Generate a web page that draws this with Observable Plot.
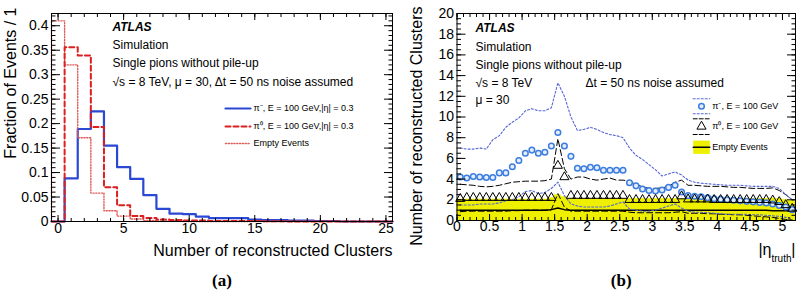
<!DOCTYPE html>
<html><head><meta charset="utf-8">
<script src="https://cdn.jsdelivr.net/npm/d3@7"></script>
<script src="https://cdn.jsdelivr.net/npm/@observablehq/plot@0.6"></script>
<style>
html,body{margin:0;padding:0;background:#fff;}
#wrap{position:relative;width:798px;height:290px;overflow:hidden;background:#fff;}
#a,#b{position:absolute;top:0;}
#a{left:0;width:400px;} #b{left:400px;width:398px;}
</style></head><body>
<div id="wrap"><div id="a"></div><div id="b"></div></div>
<script>
// ---------- panel (a): fraction of events per number of clusters ----------
const clusterBins = [0,1,2,3,4,5,6,7,8,9,10,11,12,13,14,15,16,17,18,19,20,21,22,23,24,25];
const fracPiMinus = [0,0.088,0.189,0.225,0.155,0.111,0.087,0.054,0.026,0.016,0.015,0.010,0.007,0.007,0.007,0.004,0.003,0.003,0.002,0.002,0.001,0.001,0,0,0,0];
const fracPiZero  = [0,0.356,0.339,0.193,0.070,0.033,0.011,0.007,0.004,0.003,0.002,0.002,0.001,0.001,0.001,0.001,0.0005,0.0005,0,0,0,0,0,0,0,0];
const fracEmpty   = [0.410,0.320,0.171,0.058,0.022,0.011,0.005,0.002,0.001,0.001,0,0,0,0,0,0,0,0,0,0,0,0,0,0,0,0];
const xTicksA = [0,5,10,15,20,25];
const yTicksA = [0,0.05,0.1,0.15,0.2,0.25,0.3,0.35,0.4];
const legendA = ["π⁻, E = 100 GeV,|η| = 0.3","π⁰, E = 100 GeV,|η| = 0.3","Empty Events"];

// ---------- panel (b): number of clusters vs |eta_truth| ----------
const etaBins = [0.05,0.15,0.25,0.35,0.45,0.55,0.65,0.75,0.85,0.95,1.05,1.15,1.25,1.35,1.45,1.55,1.65,1.75,1.85,1.95,2.05,2.15,2.25,2.35,2.45,2.55,2.65,2.75,2.85,2.95,3.05,3.15,3.25,3.35,3.45,3.55,3.65,3.75,3.85,3.95,4.05,4.15,4.25,4.35,4.45,4.55,4.65,4.75,4.85,4.95,5.05,5.15];
const piMinusMean  = [4.2,4.1,4.25,4.2,4.15,4.15,4.6,4.6,5.2,5.8,6.5,6.8,6.5,6.6,7.2,8.5,7.2,6.2,5.05,5.0,5.15,5.1,4.85,4.85,4.85,4.85,3.65,3.35,3.05,2.9,2.85,2.95,3.2,3.4,2.75,2.4,2.35,2.3,2.2,2.1,2.05,2.0,1.95,1.9,1.85,1.8,1.75,1.7,1.6,1.45,1.3,1.05];
const piMinusUpper = [7.0,6.9,6.9,7.0,6.9,7.8,8.2,9.0,9.5,9.9,10.6,10.8,10.6,10.6,10.9,13.3,12.0,10.0,8.7,8.8,9.0,8.8,8.5,8.3,8.2,8.0,7.0,6.3,5.9,5.4,4.9,4.3,4.5,4.7,4.4,3.9,3.7,3.6,3.55,3.5,3.45,3.4,3.4,3.4,3.35,3.3,3.3,3.3,3.3,3.1,2.5,2.0];
const piMinusLower = [1.5,1.5,1.5,1.6,1.6,1.6,1.7,1.9,2.0,2.3,2.8,2.9,2.6,2.7,3.1,3.7,2.4,1.6,1.4,1.3,1.3,1.3,1.3,1.4,1.6,1.8,1.1,1.0,0.9,0.9,1.0,1.2,1.4,1.6,1.2,0.9,0.8,0.8,0.75,0.7,0.65,0.6,0.6,0.6,0.6,0.55,0.55,0.5,0.45,0.4,0.3,0.2];
const piZeroMean   = [2.1,2.2,2.2,2.2,2.2,2.2,2.2,2.2,2.2,2.2,2.2,2.2,2.2,2.2,2.2,5.3,4.2,2.4,2.4,2.4,2.4,2.4,2.4,2.4,2.4,2.4,2.0,2.0,2.0,2.0,2.0,2.0,2.0,2.0,2.35,2.05,2.05,2.05,2.05,2.0,2.0,2.0,2.0,2.0,2.0,2.0,2.0,2.0,1.95,1.8,1.5,1.15];
const piZeroUpper  = [3.5,3.45,3.4,3.3,3.25,3.3,3.4,3.55,3.7,3.75,3.8,3.8,3.8,3.85,4.0,7.9,5.0,4.0,4.2,4.2,4.0,3.9,4.0,4.1,3.9,3.9,3.8,3.5,3.25,3.1,3.1,3.15,3.3,3.7,3.9,3.4,3.4,3.35,3.3,3.3,3.3,3.25,3.2,3.2,3.15,3.1,3.1,3.1,3.15,2.9,2.5,2.0];
const piZeroLower  = [0.85,0.9,0.9,0.9,0.9,0.9,0.9,0.9,0.95,0.95,1.0,1.0,1.0,1.0,1.05,2.6,1.3,0.9,0.9,0.9,0.9,0.9,0.9,0.9,0.9,0.9,0.8,0.75,0.75,0.75,0.75,0.75,0.75,0.8,0.85,0.7,0.7,0.7,0.65,0.65,0.6,0.6,0.55,0.55,0.5,0.45,0.4,0.35,0.3,0.2,0.1,0.05];
const emptyMean    = [1.0,1.0,1.0,1.0,1.0,1.0,1.0,1.0,1.0,1.0,1.0,1.0,1.0,1.0,1.05,1.2,1.05,1.0,1.0,1.0,1.0,1.0,1.0,1.0,1.0,1.0,1.0,1.0,1.0,1.0,1.0,1.0,1.0,1.0,1.0,1.0,1.0,1.0,1.0,1.0,1.0,1.0,1.0,1.0,1.0,1.0,1.0,1.0,0.95,0.95,0.95,0.95];
const emptyUpper   = [2.05,2.05,2.05,2.05,2.05,2.05,2.05,2.05,2.05,2.05,2.05,2.05,2.05,2.05,2.2,2.5,2.3,2.1,2.1,2.1,2.1,2.1,2.1,2.1,2.1,2.1,2.1,2.1,2.1,2.1,2.1,2.1,2.1,2.1,2.1,2.1,2.1,2.1,2.1,2.1,2.1,2.1,2.1,2.1,2.1,2.1,2.1,2.1,2.15,2.1,2.0,1.9];
const xTicksB = [0,0.5,1,1.5,2,2.5,3,3.5,4,4.5,5];
const yTicksB = [0,2,4,6,8,10,12,14,16,18,20];
const legendB = ["π⁻, E = 100 GeV","π⁰, E = 100 GeV","Empty Events"];

// ---------- styling ----------
const FONT = "'Liberation Sans', Arial, Helvetica, sans-serif";
const SERIF = "'Liberation Serif', 'Times New Roman', serif";
const cBlue = "#2a48d4", cRed = "#dc1f1f", cPink = "#e05a5a";
const cCircle = "#3c7ddf", cDotLine = "#5566d6", cYellow = "#eef000";

const seg = {draw(ctx, l) { ctx.moveTo(0, 0); ctx.lineTo(0, -l); }};
const box = {draw(ctx) { ctx.rect(-8.3, -6.6, 16.6, 13.3); }};
const fmt = d => String(d);

function histRows(bins, vals) {
  const rows = [{x: bins[0] - 0.5, y: 0}];
  bins.forEach((b, i) => { rows.push({x: b - 0.5, y: vals[i]}, {x: b + 0.5, y: vals[i]}); });
  rows.push({x: bins[bins.length - 1] + 0.5, y: 0});
  return rows;
}
function bandRows(centers, hi) {
  const h = (centers[1] - centers[0]) / 2;
  const rows = [];
  centers.forEach((c, i) => { rows.push({x: c - h, lo: 0, hi: hi[i]}, {x: c + h, lo: 0, hi: hi[i]}); });
  return rows;
}
function frameAxes(xMaj, xMin, yMaj, yMin, xPad, yPad, xLen, yLen) {
  const blank = () => "";
  return [
    Plot.axisX(xMaj, {anchor: "bottom", tickSize: 0, tickPadding: xPad, tickFormat: fmt, label: null, fontSize: 14}),
    Plot.axisY(yMaj, {anchor: "left", tickSize: 0, tickPadding: yPad, tickFormat: fmt, label: null, fontSize: 14}),
    Plot.axisX(xMaj, {anchor: "bottom", tickSize: -xLen, tickFormat: blank, label: null}),
    Plot.axisX(xMaj, {anchor: "top", tickSize: -xLen, tickFormat: blank, label: null}),
    Plot.axisX(xMin, {anchor: "bottom", tickSize: -xLen / 2, tickFormat: blank, label: null}),
    Plot.axisX(xMin, {anchor: "top", tickSize: -xLen / 2, tickFormat: blank, label: null}),
    Plot.axisY(yMaj, {anchor: "left", tickSize: -yLen, tickFormat: blank, label: null}),
    Plot.axisY(yMaj, {anchor: "right", tickSize: -yLen, tickFormat: blank, label: null}),
    Plot.axisY(yMin, {anchor: "left", tickSize: -yLen / 2, tickFormat: blank, label: null}),
    Plot.axisY(yMin, {anchor: "right", tickSize: -yLen / 2, tickFormat: blank, label: null}),
    Plot.frame({stroke: "black", strokeWidth: 1})
  ];
}
function note(str, dx, dy, extra = {}) {
  return Plot.text([str], {frameAnchor: "top-left", text: d => d, dx, dy, textAnchor: "start", lineAnchor: "middle", fontSize: 12, fill: "black", ...extra});
}

// ---------- panel (a) ----------
const plotA = Plot.plot({
  width: 400, height: 290,
  marginLeft: 51, marginRight: 8, marginTop: 13, marginBottom: 69,
  style: {fontFamily: FONT, fontSize: "14px", background: "white", color: "black"},
  x: {domain: [-0.5, 25.5]},
  y: {domain: [0, 0.425]},
  marks: [
    Plot.line(histRows(clusterBins, fracPiMinus), {x: "x", y: "y", stroke: cBlue, strokeWidth: 2.2}),
    Plot.line(histRows(clusterBins, fracEmpty), {x: "x", y: "y", stroke: cPink, strokeWidth: 1.4, strokeDasharray: "1.2,1.6"}),
    Plot.line(histRows(clusterBins, fracPiZero), {x: "x", y: "y", stroke: cRed, strokeWidth: 2, strokeDasharray: "5,3"}),
    ...frameAxes(xTicksA, d3.range(0, 26, 1), yTicksA, d3.range(0, 0.4201, 0.01), 2, 3, 6, 9),
    note("ATLAS", 61, 14, {fontWeight: "bold", fontStyle: "italic"}),
    note("Simulation", 61, 32),
    note("Single pions without pile-up", 61, 50),
    note("√s = 8 TeV, μ = 30, Δt = 50 ns noise assumed", 61, 69),
    Plot.vector([0], {frameAnchor: "top-left", dx: 174, dy: 95, length: 25, rotate: 90, anchor: "start", shape: seg, stroke: cBlue, strokeWidth: 2.2}),
    Plot.vector([0], {frameAnchor: "top-left", dx: 174, dy: 113, length: 25, rotate: 90, anchor: "start", shape: seg, stroke: cRed, strokeWidth: 2, strokeDasharray: "5,3"}),
    Plot.vector([0], {frameAnchor: "top-left", dx: 174, dy: 130, length: 25, rotate: 90, anchor: "start", shape: seg, stroke: cPink, strokeWidth: 1.3, strokeDasharray: "1.2,1.6"}),
    note(legendA[0], 202, 95, {fontSize: 9}),
    note(legendA[1], 202, 113, {fontSize: 9}),
    note(legendA[2], 202, 130, {fontSize: 9}),
    Plot.text(["Fraction of Events / 1"], {frameAnchor: "top-left", text: d => d, rotate: -90, textAnchor: "end", lineAnchor: "middle", dx: -41, dy: -6, fontSize: 16}),
    Plot.text(["Number of reconstructed Clusters"], {frameAnchor: "bottom-right", text: d => d, textAnchor: "end", lineAnchor: "middle", dx: 0, dy: 29, fontSize: 16}),
    Plot.text(["(a)"], {frameAnchor: "bottom", text: d => d, lineAnchor: "middle", dy: 59, fontSize: 17, fontWeight: "bold", fontFamily: SERIF})
  ]
});
document.getElementById("a").append(plotA);

// ---------- panel (b) ----------
const plotB = Plot.plot({
  width: 398, height: 290,
  marginLeft: 56.5, marginRight: 3, marginTop: 13, marginBottom: 70,
  style: {fontFamily: FONT, fontSize: "14px", background: "white", color: "black"},
  x: {domain: [0, 5.2]},
  y: {domain: [0, 20]},
  marks: [
    Plot.areaY(bandRows(etaBins, emptyUpper), {x: "x", y1: "lo", y2: "hi", fill: cYellow}),
    Plot.line(etaBins, {x: d => d, y: emptyMean, stroke: "black", strokeWidth: 1.5}),
    Plot.line(etaBins, {x: d => d, y: piZeroUpper, stroke: "black", strokeWidth: 1, strokeDasharray: "6,3"}),
    Plot.line(etaBins, {x: d => d, y: piZeroLower, stroke: "black", strokeWidth: 1, strokeDasharray: "6,3"}),
    Plot.line(etaBins, {x: d => d, y: piMinusUpper, stroke: cDotLine, strokeWidth: 1.1, strokeDasharray: "2,2"}),
    Plot.line(etaBins, {x: d => d, y: piMinusLower, stroke: cDotLine, strokeWidth: 1.1, strokeDasharray: "2,2"}),
    Plot.dot(etaBins, {x: d => d, y: piMinusMean, r: 2.8, stroke: cCircle, strokeWidth: 1.5, fill: "#e4edfb"}),
    Plot.dot(etaBins, {x: d => d, y: piZeroMean, symbol: "triangle", r: 3.4, stroke: "black", strokeWidth: 1, fill: "none"}),
    ...frameAxes(xTicksB, d3.range(0, 5.201, 0.1), yTicksB, d3.range(0, 20.01, 0.5), 1, 3, 6, 9),
    note("ATLAS", 18.5, 15, {fontWeight: "bold", fontStyle: "italic"}),
    note("Simulation", 18.5, 34),
    note("Single pions without pile-up", 18.5, 52),
    note("√s = 8 TeV", 18.5, 70),
    note("Δt = 50 ns noise assumed", 128.5, 70),
    note("μ = 30", 18.5, 87),
    // legend
    Plot.vector([0], {frameAnchor: "top-left", dx: 236.2, dy: 85.3, length: 16.6, rotate: 90, anchor: "start", shape: seg, stroke: cDotLine, strokeWidth: 1.1, strokeDasharray: "2,2"}),
    Plot.vector([0], {frameAnchor: "top-left", dx: 236.2, dy: 100.3, length: 16.6, rotate: 90, anchor: "start", shape: seg, stroke: cDotLine, strokeWidth: 1.1, strokeDasharray: "2,2"}),
    Plot.dot([0], {frameAnchor: "top-left", dx: 244.5, dy: 92.7, r: 2.8, stroke: cCircle, strokeWidth: 1.5, fill: "#e4edfb"}),
    Plot.vector([0], {frameAnchor: "top-left", dx: 236.2, dy: 105.3, length: 16.6, rotate: 90, anchor: "start", shape: seg, stroke: "black", strokeWidth: 1, strokeDasharray: "4,2"}),
    Plot.vector([0], {frameAnchor: "top-left", dx: 236.2, dy: 121, length: 16.6, rotate: 90, anchor: "start", shape: seg, stroke: "black", strokeWidth: 1, strokeDasharray: "4,2"}),
    Plot.dot([0], {frameAnchor: "top-left", dx: 244.5, dy: 113, symbol: "triangle", r: 3.4, stroke: "black", strokeWidth: 1, fill: "none"}),
    Plot.dot([0], {frameAnchor: "top-left", dx: 244.5, dy: 133.7, symbol: box, fill: cYellow, stroke: "none"}),
    Plot.vector([0], {frameAnchor: "top-left", dx: 236.2, dy: 133.7, length: 16.6, rotate: 90, anchor: "start", shape: seg, stroke: "black", strokeWidth: 1.5}),
    note(legendB[0], 255.2, 92.7, {fontSize: 9}),
    note(legendB[1], 255.2, 113, {fontSize: 9}),
    note(legendB[2], 255.2, 133.7, {fontSize: 9}),
    Plot.text(["Number of reconstructed Clusters"], {frameAnchor: "top-left", text: d => d, rotate: -90, textAnchor: "end", lineAnchor: "middle", dx: -40, dy: -7, fontSize: 16}),
    Plot.text(["|η"], {frameAnchor: "bottom-right", text: d => d, textAnchor: "end", lineAnchor: "middle", dx: -24, dy: 29, fontSize: 16}),
    Plot.text(["truth"], {frameAnchor: "bottom-right", text: d => d, textAnchor: "end", lineAnchor: "middle", dx: -4, dy: 38, fontSize: 10}),
    Plot.text(["|"], {frameAnchor: "bottom-right", text: d => d, textAnchor: "end", lineAnchor: "middle", dx: 0, dy: 29, fontSize: 16}),
    Plot.text(["(b)"], {frameAnchor: "bottom", text: d => d, lineAnchor: "middle", dy: 60, dx: -5, fontSize: 17, fontWeight: "bold", fontFamily: SERIF})
  ]
});
document.getElementById("b").append(plotB);
</script>
</body></html>
